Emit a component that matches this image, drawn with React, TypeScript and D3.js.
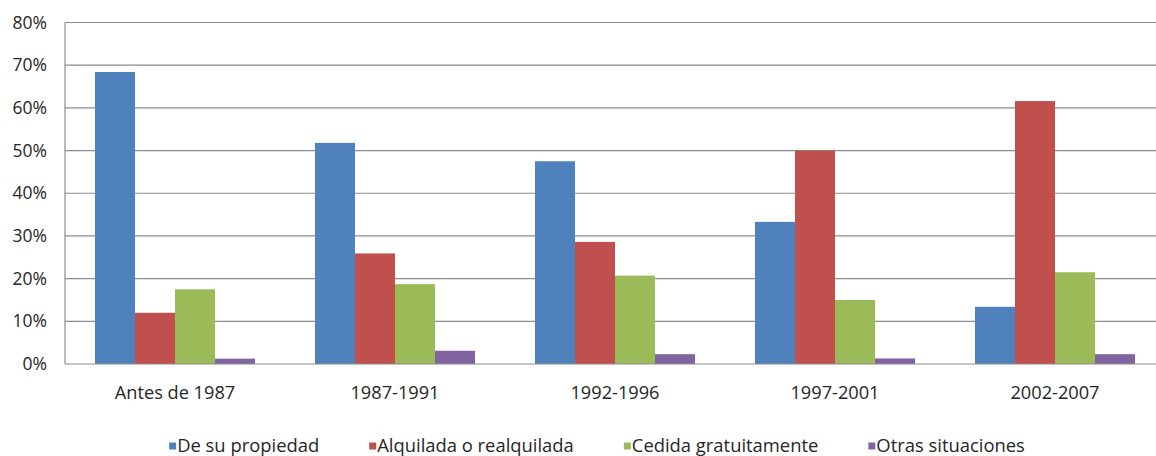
import React, { useEffect, useRef } from "react";
import * as d3 from "d3";

const categories = ["Antes de 1987", "1987-1991", "1992-1996", "1997-2001", "2002-2007"];
const seriesNames = ["De su propiedad", "Alquilada o realquilada", "Cedida gratuitamente", "Otras situaciones"];
const propiedad = [0.684, 0.518, 0.475, 0.333, 0.134];
const alquilada = [0.12, 0.259, 0.286, 0.5, 0.616];
const cedida = [0.175, 0.187, 0.207, 0.15, 0.215];
const otras = [0.0125, 0.031, 0.023, 0.013, 0.023];
const yTicks = [0, 0.1, 0.2, 0.3, 0.4, 0.5, 0.6, 0.7, 0.8];
const colors = ["#4F81BD", "#C0504D", "#9BBB59", "#8064A2"];

const W = 1156;
const H = 456;

export default function App() {
  const ref = useRef<SVGSVGElement>(null);

  useEffect(() => {
    const svg = d3.select(ref.current);
    svg.selectAll("*").remove();
    const values = [propiedad, alquilada, cedida, otras];
    const left = 65, right = 1165, top = 22.5, bottom = 364;
    const font = "'Open Sans', sans-serif";
    const textColor = "#262626";

    const x0 = d3.scaleBand<string>().domain(categories).range([left, right])
      .paddingInner(60 / 220).paddingOuter(30 / 220);
    const x1 = d3.scaleBand<string>().domain(seriesNames).range([0, x0.bandwidth()]).padding(0);
    const y = d3.scaleLinear().domain([0, 0.8]).range([bottom, top]);

    // gridlines
    svg.append("g").selectAll("line").data(yTicks.filter(t => t > 0)).join("line")
      .attr("x1", left).attr("x2", right)
      .attr("y1", d => y(d)).attr("y2", d => y(d))
      .attr("stroke", "#8c8c8c").attr("stroke-width", 1.2);

    // bars
    seriesNames.forEach((s, si) => {
      svg.append("g").selectAll("rect").data(categories).join("rect")
        .attr("x", c => (x0(c) as number) + (x1(s) as number))
        .attr("width", x1.bandwidth())
        .attr("y", (c, i) => y(values[si][i]))
        .attr("height", (c, i) => bottom - y(values[si][i]))
        .attr("fill", colors[si]);
    });

    // axes lines
    svg.append("line").attr("x1", left).attr("x2", left).attr("y1", top).attr("y2", bottom)
      .attr("stroke", "#8c8c8c").attr("stroke-width", 1.2);
    svg.append("line").attr("x1", left).attr("x2", right).attr("y1", bottom).attr("y2", bottom)
      .attr("stroke", "#8c8c8c").attr("stroke-width", 1.2);

    // y tick labels
    const fmt = d3.format(".0%");
    svg.append("g").selectAll("text").data(yTicks).join("text")
      .attr("x", 47).attr("y", d => y(d)).attr("dy", "0.35em")
      .attr("text-anchor", "end")
      .attr("font-family", font).attr("font-size", 17.5).attr("fill", textColor)
      .text(d => fmt(d));

    // x labels
    svg.append("g").selectAll("text").data(categories).join("text")
      .attr("x", c => (x0(c) as number) + x0.bandwidth() / 2)
      .attr("y", 399)
      .attr("text-anchor", "middle")
      .attr("font-family", font).attr("font-size", 18.2).attr("fill", textColor)
      .text(c => c);

    // legend
    const lg = svg.append("g");
    const sq = 7;
    const items = seriesNames.map((s, i) => {
      const g = lg.append("g");
      g.append("rect").attr("x", 0).attr("y", -sq / 2).attr("width", sq).attr("height", sq).attr("fill", colors[i]);
      const t = g.append("text").attr("x", sq + 1).attr("y", 0).attr("dy", "0.35em")
        .attr("font-family", font).attr("font-size", 18.4).attr("fill", textColor).text(s);
      const w = sq + 1 + (t.node() as SVGTextElement).getComputedTextLength();
      return { g, w };
    });
    const gap = 50;
    const total = items.reduce((a, b) => a + b.w, 0) + gap * (items.length - 1);
    let cx = 597 - total / 2;
    items.forEach(it => {
      it.g.attr("transform", `translate(${cx},446)`);
      cx += it.w + gap;
    });
  }, []);

  return (
    <svg ref={ref} width={W} height={H}
      style={{ position: "absolute", left: 0, top: 0, background: "#fff" }} />
  );
}
